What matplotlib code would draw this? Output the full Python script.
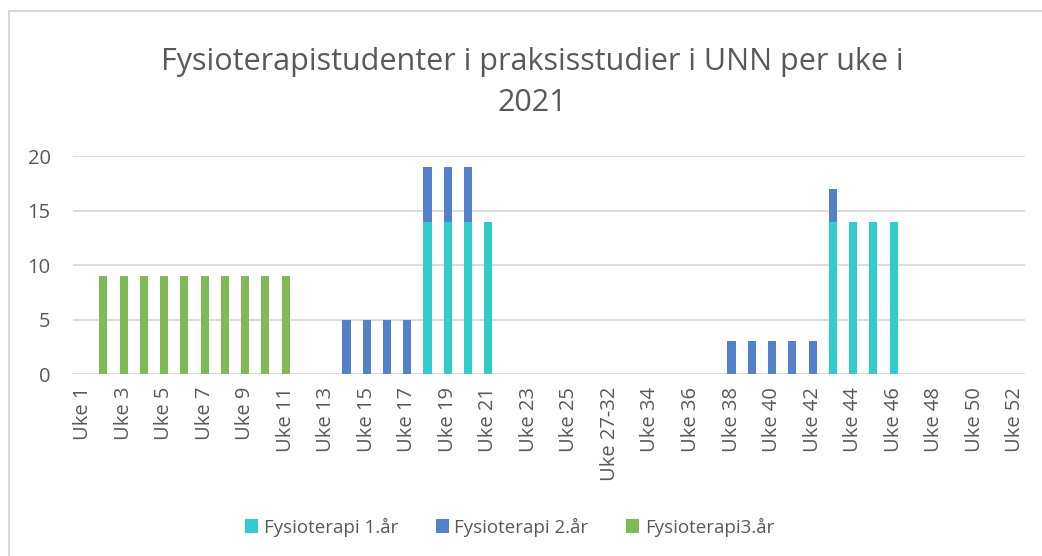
import matplotlib.pyplot as plt
from matplotlib.lines import Line2D
import numpy as np

# week categories (weeks 27-32 are grouped as one)
uker = ["Uke %d" % i for i in range(1, 27)] + ["Uke 27-32"] + ["Uke %d" % i for i in range(33, 53)]

# students per week, by year of study (in order of the categories)
ar1 = [0]*17 + [14, 14, 14, 14] + [0]*16 + [14, 14, 14, 14] + [0]*6
ar2 = [0]*13 + [5, 5, 5, 5, 5, 5, 5] + [0]*12 + [3, 3, 3, 3, 3, 3] + [0]*9
ar3 = [0] + [9]*10 + [0]*36

serier = ["Fysioterapi 1.år", "Fysioterapi 2.år", "Fysioterapi3.år"]
farger = ["#33CCCC", "#5580CA", "#7FBA57"]

plt.rcParams['font.family'] = ['Open Sans', 'DejaVu Sans']

fig = plt.figure(figsize=(10.42, 5.56), dpi=100)
ax = fig.add_axes([0.070, 0.327, 0.914, 0.392])

x = np.arange(len(uker))
bunn = np.zeros(len(uker))
for verdier, navn, farge in zip([ar1, ar2, ar3], serier, farger):
    ax.bar(x, verdier, 0.4, bottom=bunn, color=farge, label=navn, zorder=3)
    bunn = bunn + np.array(verdier)

ax.set_xlim(-0.5, len(uker) - 0.5)
ax.set_ylim(0, 20)
ax.set_yticks([0, 5, 10, 15, 20])
ax.set_xticks(x[::2])
ax.set_xticklabels(uker[::2], rotation=90)
ax.tick_params(axis='both', length=0, labelsize=14.5, colors='#595959')
ax.tick_params(axis='y', pad=16)
ax.tick_params(axis='x', pad=9)
ax.grid(axis='y', color='#d9d9d9', linewidth=1.3, zorder=0)
for s in ax.spines.values():
    s.set_visible(False)

fig.text(0.511, 0.852, "Fysioterapistudenter i praksisstudier i UNN per uke i\n2021",
         ha='center', va='center', fontsize=22, color='#595959', linespacing=1.5)

fig.legend(loc='center', bbox_to_anchor=(0.489, 0.052), ncol=3, frameon=False,
           fontsize=13.5, handlelength=0.7, handleheight=0.7, handletextpad=0.3,
           columnspacing=2.0, labelcolor='#595959')

# chart border like the original
fig.add_artist(Line2D([0.009, 0.009], [0, 0.98], color='#d9d9d9', linewidth=1.5))
fig.add_artist(Line2D([0.009, 1.0], [0.98, 0.98], color='#d9d9d9', linewidth=1.5))

fig.savefig('out.png', dpi=100)
